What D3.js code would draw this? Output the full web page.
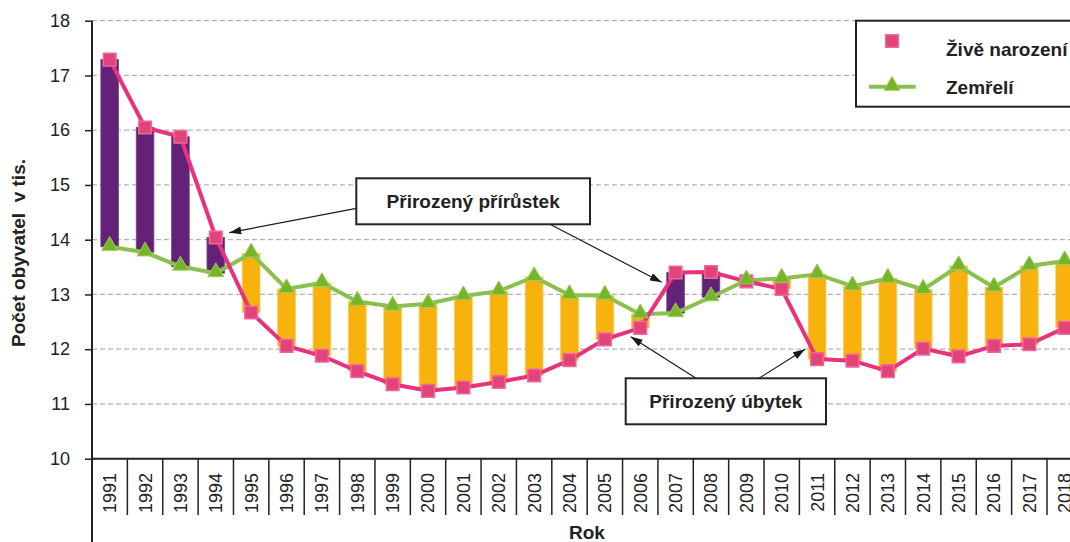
<!DOCTYPE html>
<html>
<head>
<meta charset="utf-8">
<script src="https://cdn.jsdelivr.net/npm/d3@7"></script>
<style>
  body { margin: 0; background: #fff; }
  svg { display: block; font-family: "Liberation Sans", Arial, Helvetica, sans-serif; }
</style>
</head>
<body>
<div id="chart"></div>
<script>
// data
var years = ["1991","1992","1993","1994","1995","1996","1997","1998","1999","2000",
             "2001","2002","2003","2004","2005","2006","2007","2008","2009","2010",
             "2011","2012","2013","2014","2015","2016","2017","2018"];
var births = [17.29, 16.05, 15.88, 14.04, 12.67, 12.06, 11.88, 11.60, 11.36, 11.24,
              11.30, 11.40, 11.52, 11.80, 12.18, 12.39, 13.40, 13.41, 13.24, 13.10,
              11.82, 11.79, 11.60, 12.01, 11.87, 12.06, 12.09, 12.39];
var deaths = [13.87, 13.77, 13.51, 13.39, 13.75, 13.10, 13.21, 12.87, 12.78, 12.83,
              12.97, 13.06, 13.32, 12.99, 12.98, 12.64, 12.66, 12.95, 13.26, 13.29,
              13.37, 13.15, 13.29, 13.09, 13.52, 13.13, 13.52, 13.61];
var yTicks = [10, 11, 12, 13, 14, 15, 16, 17, 18];
var seriesNames = ["Živě narození", "Zemřelí"];
var yTitle = "Počet obyvatel\u00a0\u00a0v tis.";
var xTitle = "Rok";
var noteGain = "Přirozený přírůstek";
var noteLoss = "Přirozený úbytek";

var svgWidth = 1070;
var svgHeight = 542;
var plotLeft = 92, plotTop = 20.7, plotBottom = 458.7;

var svg = d3.select("#chart")
    .append("svg")
    .attr("width", svgWidth)
    .attr("height", svgHeight);

var x = d3.scaleBand()
    .domain(years)
    .range([plotLeft, plotLeft + 28 * 35.37])
    .padding(0);

var y = d3.scaleLinear()
    .domain([10, 18])
    .range([plotBottom, plotTop]);

var bw = x.bandwidth();
var rows = years.map(function(yr, i) {
    return { year: yr, b: births[i], d: deaths[i] };
});

// arrow marker
svg.append("defs").append("marker")
    .attr("id", "arr")
    .attr("viewBox", "0 0 12 8")
    .attr("refX", 12).attr("refY", 4)
    .attr("markerWidth", 12).attr("markerHeight", 8)
    .attr("markerUnits", "userSpaceOnUse")
    .attr("orient", "auto")
    .append("path")
    .attr("d", "M0,0 L12,4 L0,8 Z")
    .attr("fill", "#1a1a1a");

// gridlines
svg.append("g")
    .selectAll("line")
    .data(yTicks.filter(function(t) { return t > 10; }))
    .enter()
    .append("line")
    .attr("x1", plotLeft).attr("x2", svgWidth)
    .attr("y1", function(d) { return y(d); })
    .attr("y2", function(d) { return y(d); })
    .attr("stroke", "#b3b3b3")
    .attr("stroke-width", 1.2)
    .attr("stroke-dasharray", "5,3");

// y axis ticks + labels
var yAxis = d3.axisLeft(y).tickValues(yTicks).tickSize(7).tickPadding(15);
var yg = svg.append("g")
    .attr("transform", "translate(" + plotLeft + ",0)")
    .call(yAxis);
yg.select(".domain").remove();
yg.selectAll(".tick line").attr("stroke", "#222").attr("stroke-width", 1.5);
yg.selectAll(".tick text")
    .attr("font-size", 18)
    .attr("fill", "#222")
    .attr("font-family", "Liberation Sans, Arial, sans-serif");

// bars (difference)
svg.append("g")
    .selectAll("rect")
    .data(rows)
    .enter()
    .append("rect")
    .attr("x", function(d) { return x(d.year) + bw * 0.25; })
    .attr("width", bw * 0.5)
    .attr("y", function(d) { return y(Math.max(d.b, d.d)); })
    .attr("height", function(d) { return Math.abs(y(d.b) - y(d.d)); })
    .attr("fill", function(d) { return d.b > d.d ? "#632277" : "#f8b20e"; })
    .attr("stroke", function(d) { return d.b > d.d ? "#7a4a8c" : "#fbc84a"; })
    .attr("stroke-width", 0.8);

var cx = function(d) { return x(d.year) + bw / 2; };

// deaths line
svg.append("path")
    .datum(rows)
    .attr("fill", "none")
    .attr("stroke", "#8cc04e")
    .attr("stroke-width", 4)
    .attr("d", d3.line().x(cx).y(function(d) { return y(d.d); }));

// births line
svg.append("path")
    .datum(rows)
    .attr("fill", "none")
    .attr("stroke", "#e9327e")
    .attr("stroke-width", 4)
    .attr("d", d3.line().x(cx).y(function(d) { return y(d.b); }));

var square = d3.symbol().type(d3.symbolSquare).size(160);
var tri = d3.symbol().type(d3.symbolTriangle).size(110);

svg.append("g")
    .selectAll("path")
    .data(rows)
    .enter()
    .append("path")
    .attr("d", square)
    .attr("transform", function(d) { return "translate(" + cx(d) + "," + y(d.b) + ")"; })
    .attr("fill", "#e2447a")
    .attr("stroke", "#f0679d")
    .attr("stroke-width", 1.5);

svg.append("g")
    .selectAll("path")
    .data(rows)
    .enter()
    .append("path")
    .attr("d", tri)
    .attr("transform", function(d) { return "translate(" + cx(d) + "," + (y(d.d) - 1) + ")"; })
    .attr("fill", "#76b52a")
    .attr("stroke", "#9ccd5c")
    .attr("stroke-width", 1);

// axes lines
svg.append("line")
    .attr("x1", plotLeft).attr("x2", plotLeft)
    .attr("y1", plotTop).attr("y2", svgHeight)
    .attr("stroke", "#222").attr("stroke-width", 2);
svg.append("line")
    .attr("x1", plotLeft).attr("x2", svgWidth)
    .attr("y1", plotBottom).attr("y2", plotBottom)
    .attr("stroke", "#222").attr("stroke-width", 2);

// category separators
svg.append("g")
    .selectAll("line")
    .data(years.slice(1))
    .enter()
    .append("line")
    .attr("x1", function(d) { return x(d); })
    .attr("x2", function(d) { return x(d); })
    .attr("y1", plotBottom).attr("y2", 515)
    .attr("stroke", "#222").attr("stroke-width", 1.5);

// year labels
svg.append("g")
    .selectAll("text")
    .data(years)
    .enter()
    .append("text")
    .attr("transform", function(d) { return "translate(" + (x(d) + bw / 2) + ",473) rotate(-90)"; })
    .attr("text-anchor", "end")
    .attr("dy", "0.36em")
    .attr("font-size", 18)
    .attr("fill", "#222")
    .text(function(d) { return d; });

// axis titles
svg.append("text")
    .attr("transform", "translate(25,253) rotate(-90)")
    .attr("text-anchor", "middle")
    .attr("font-size", 19)
    .attr("font-weight", "bold")
    .attr("fill", "#222")
    .text(yTitle);

svg.append("text")
    .attr("x", 587).attr("y", 539)
    .attr("text-anchor", "middle")
    .attr("font-size", 19)
    .attr("font-weight", "bold")
    .attr("fill", "#222")
    .text(xTitle);

// legend
var lg = svg.append("g");
lg.append("rect")
    .attr("x", 856).attr("y", 20.7)
    .attr("width", 230).attr("height", 86)
    .attr("fill", "#fff")
    .attr("stroke", "#222").attr("stroke-width", 2);
lg.append("path")
    .attr("d", square)
    .attr("transform", "translate(892,41)")
    .attr("fill", "#e2447a").attr("stroke", "#f0679d").attr("stroke-width", 1.5);
lg.append("line")
    .attr("x1", 869).attr("x2", 915.7)
    .attr("y1", 86.7).attr("y2", 86.7)
    .attr("stroke", "#8cc04e").attr("stroke-width", 4);
lg.append("path")
    .attr("d", tri)
    .attr("transform", "translate(892,85.7)")
    .attr("fill", "#76b52a").attr("stroke", "#9ccd5c").attr("stroke-width", 1);
lg.selectAll("text")
    .data(seriesNames)
    .enter()
    .append("text")
    .attr("x", 946)
    .attr("y", function(d, i) { return i === 0 ? 56 : 94; })
    .attr("font-size", 19)
    .attr("font-weight", "bold")
    .attr("fill", "#222")
    .text(function(d) { return d; });

// annotations
function note(x0, y0, w, h, label, arrows) {
    arrows.forEach(function(a) {
        svg.append("line")
            .attr("x1", a[0]).attr("y1", a[1])
            .attr("x2", a[2]).attr("y2", a[3])
            .attr("stroke", "#1a1a1a").attr("stroke-width", 1.2)
            .attr("marker-end", "url(#arr)");
    });
    svg.append("rect")
        .attr("x", x0).attr("y", y0)
        .attr("width", w).attr("height", h)
        .attr("fill", "#fff")
        .attr("stroke", "#222").attr("stroke-width", 2);
    svg.append("text")
        .attr("x", x0 + w / 2).attr("y", y0 + h / 2 + 6.5)
        .attr("text-anchor", "middle")
        .attr("font-size", 19)
        .attr("font-weight", "bold")
        .attr("fill", "#222")
        .text(label);
}

note(356.3, 178.3, 233.7, 46, noteGain, [
    [356.3, 208.3, 229.3, 232.7],
    [550, 224.3, 661.7, 282.3]
]);
note(625.7, 378.3, 200.3, 46, noteLoss, [
    [696, 378.3, 630.7, 336.7],
    [759, 378.3, 805, 349.3]
]);
</script>
</body>
</html>
